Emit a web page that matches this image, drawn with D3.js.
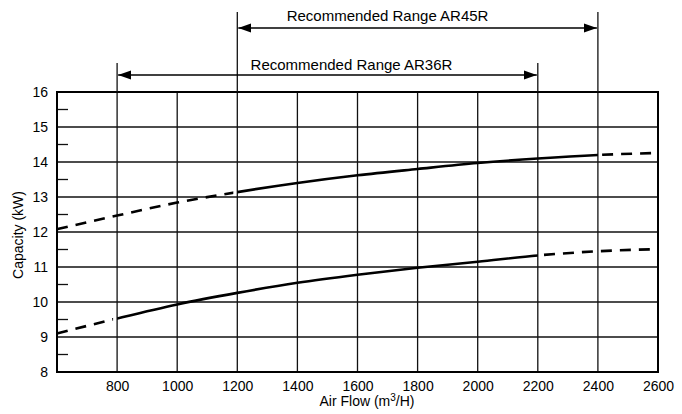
<!DOCTYPE html>
<html>
<head>
<meta charset="utf-8">
<script src="https://cdn.jsdelivr.net/npm/d3@7"></script>
<style>
  body { margin: 0; background: #fff; }
  svg { display: block; font-family: "Liberation Sans", Arial, sans-serif; }
</style>
</head>
<body>
<div id="chart"></div>
<script>
// air flow (m3/H) sample points
var airFlow = [600, 800, 1000, 1200, 1400, 1600, 1800, 2000, 2200, 2400, 2600];
// capacity (kW)
var capAR45R = [12.08, 12.47, 12.84, 13.14, 13.4, 13.62, 13.8, 13.97, 14.1, 14.2, 14.26];
var capAR36R = [9.1, 9.53, 9.93, 10.26, 10.55, 10.78, 10.98, 11.15, 11.33, 11.45, 11.51];
// recommended ranges (solid part of each curve)
var rangeNames = ["AR45R", "AR36R"];
var rangeFrom = [1200, 800];
var rangeTo = [2400, 2200];
var rangeLabelAt = [1700, 1580];

var xTicks = [800, 1000, 1200, 1400, 1600, 1800, 2000, 2200, 2400, 2600];
var yTicks = [8, 9, 10, 11, 12, 13, 14, 15, 16];
var yMinor = [8.5, 9.5, 10.5, 11.5, 12.5, 13.5, 14.5, 15.5];

var width = 682, height = 414;
var margin = {top: 92, right: 24, bottom: 42, left: 57};

var svg = d3.select("#chart").append("svg")
    .attr("width", width)
    .attr("height", height);

var x = d3.scaleLinear().domain([600, 2600]).range([margin.left, width - margin.right]);
var y = d3.scaleLinear().domain([8, 16]).range([height - margin.bottom, margin.top]);

// grid
svg.append("g").selectAll("line")
    .data(xTicks)
    .enter().append("line")
    .attr("x1", function(d) { return x(d); })
    .attr("x2", function(d) { return x(d); })
    .attr("y1", y(8))
    .attr("y2", y(16))
    .attr("stroke", "#111")
    .attr("stroke-width", 1.3);

svg.append("g").selectAll("line")
    .data(yTicks)
    .enter().append("line")
    .attr("x1", x(600))
    .attr("x2", x(2600))
    .attr("y1", function(d) { return y(d); })
    .attr("y2", function(d) { return y(d); })
    .attr("stroke", "#111")
    .attr("stroke-width", 1.3);

// minor ticks on the left, pointing in
svg.append("g").selectAll("line")
    .data(yMinor)
    .enter().append("line")
    .attr("x1", x(600))
    .attr("x2", x(600) + 11)
    .attr("y1", function(d) { return y(d); })
    .attr("y2", function(d) { return y(d); })
    .attr("stroke", "#111")
    .attr("stroke-width", 1.3);

// frame
svg.append("rect")
    .attr("x", x(600))
    .attr("y", y(16))
    .attr("width", x(2600) - x(600))
    .attr("height", y(8) - y(16))
    .attr("fill", "none")
    .attr("stroke", "#000")
    .attr("stroke-width", 2);

// tick labels
var yAxis = svg.append("g")
    .attr("transform", "translate(" + x(600) + ",0)")
    .call(d3.axisLeft(y).tickValues(yTicks).tickSize(0).tickPadding(9).tickFormat(d3.format("d")));
var xAxis = svg.append("g")
    .attr("transform", "translate(0," + y(8) + ")")
    .call(d3.axisBottom(x).tickValues(xTicks).tickSize(0).tickPadding(9).tickFormat(d3.format("d")));
[xAxis, yAxis].forEach(function(a) {
    a.select(".domain").remove();
    a.selectAll("text")
        .attr("font-family", "Liberation Sans, Arial, sans-serif")
        .attr("font-size", 14)
        .attr("fill", "#000");
});

// axis titles
var xt = svg.append("text")
    .attr("x", 367)
    .attr("y", 406)
    .attr("text-anchor", "middle")
    .attr("font-size", 14)
    .text("Air Flow (m");
xt.append("tspan").attr("font-size", 10).attr("dy", -5).text("3");
xt.append("tspan").attr("dy", 5).text("/H)");

svg.append("text")
    .attr("transform", "translate(23," + (y(12) + 3) + ") rotate(-90)")
    .attr("text-anchor", "middle")
    .attr("font-size", 14)
    .text("Capacity (kW)");

// clip paths for solid / dashed parts
var defs = svg.append("defs");
defs.append("marker")
    .attr("id", "arrow")
    .attr("viewBox", "0 0 13 10")
    .attr("refX", 13)
    .attr("refY", 5)
    .attr("markerWidth", 13)
    .attr("markerHeight", 10)
    .attr("markerUnits", "userSpaceOnUse")
    .attr("orient", "auto-start-reverse")
    .append("path")
    .attr("d", "M0,0.5L13,5L0,9.5Z")
    .attr("fill", "#000");

var line = d3.line()
    .x(function(d) { return x(d[0]); })
    .y(function(d) { return y(d[1]); })
    .curve(d3.curveMonotoneX);

var series = [capAR45R, capAR36R];
series.forEach(function(vals, i) {
    var pts = airFlow.map(function(a, j) { return [a, vals[j]]; });
    var a = x(rangeFrom[i]), b = x(rangeTo[i]);
    defs.append("clipPath").attr("id", "solid" + i)
        .append("rect").attr("x", a).attr("y", 0).attr("width", b - a).attr("height", height);
    var cp = defs.append("clipPath").attr("id", "dash" + i);
    cp.append("rect").attr("x", 0).attr("y", 0).attr("width", a - 4).attr("height", height);
    cp.append("rect").attr("x", b + 4).attr("y", 0).attr("width", width - b).attr("height", height);

    svg.append("path")
        .datum(pts)
        .attr("d", line)
        .attr("fill", "none")
        .attr("stroke", "#000")
        .attr("stroke-width", 2.6)
        .attr("clip-path", "url(#solid" + i + ")");
    svg.append("path")
        .datum(pts)
        .attr("d", line)
        .attr("fill", "none")
        .attr("stroke", "#000")
        .attr("stroke-width", 2.6)
        .attr("stroke-dasharray", "11,8")
        .attr("clip-path", "url(#dash" + i + ")");
});

// recommended range annotations
var annTop = [12, 63], annArrow = [28, 75], annText = [21, 70];
rangeNames.forEach(function(name, i) {
    var g = svg.append("g");
    [rangeFrom[i], rangeTo[i]].forEach(function(v) {
        g.append("line")
            .attr("x1", x(v)).attr("x2", x(v))
            .attr("y1", annTop[i]).attr("y2", y(16))
            .attr("stroke", "#111")
            .attr("stroke-width", 1.3);
    });
    g.append("line")
        .attr("x1", x(rangeFrom[i]) + 1).attr("x2", x(rangeTo[i]) - 1)
        .attr("y1", annArrow[i]).attr("y2", annArrow[i])
        .attr("stroke", "#000")
        .attr("stroke-width", 1.5)
        .attr("marker-start", "url(#arrow)")
        .attr("marker-end", "url(#arrow)");
    g.append("text")
        .attr("x", x(rangeLabelAt[i]))
        .attr("y", annText[i])
        .attr("text-anchor", "middle")
        .attr("font-size", 15)
        .text("Recommended Range " + name);
});
</script>
</body>
</html>
